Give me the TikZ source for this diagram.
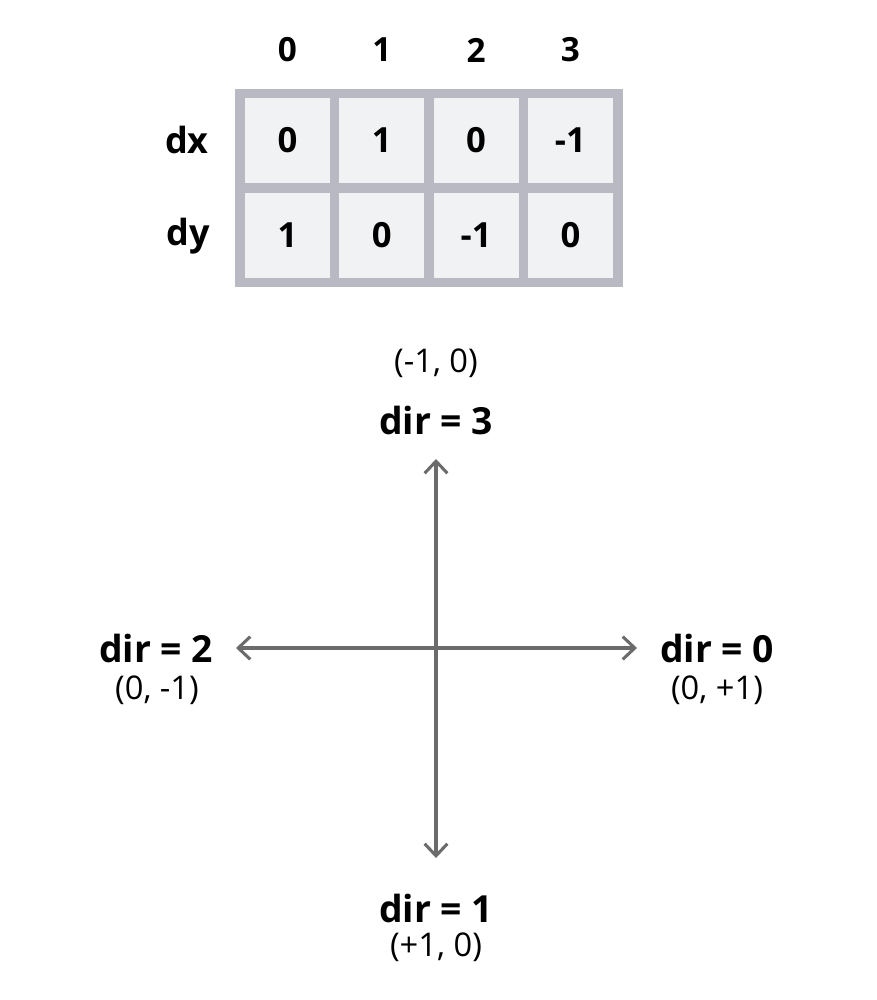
\documentclass[tikz,border=0pt]{standalone}
\usepackage{fontspec}
\setmainfont{Open Sans}
\usetikzlibrary{arrows.meta}
\definecolor{cellborder}{HTML}{B9B9C3}
\definecolor{cellfill}{HTML}{F1F2F4}
\definecolor{arrowgray}{HTML}{6B6B6B}
\begin{document}
\begin{tikzpicture}[x=0.75pt,y=-0.75pt,
  cell/.style={fill=cellfill,draw=none,minimum width=63.75pt,minimum height=63.75pt,inner sep=0pt,font=\fontsize{26}{30}\selectfont\bfseries},
  head/.style={font=\fontsize{25}{28}\selectfont\bfseries,inner sep=0pt},
  rowlab/.style={font=\fontsize{27}{30}\selectfont\bfseries,inner sep=0pt},
  dirlab/.style={font=\fontsize{28}{32}\selectfont\bfseries,inner sep=0pt},
  coordlab/.style={font=\fontsize{24.5}{28}\selectfont,inner sep=0pt},
  axis/.style={draw=arrowgray,line width=2.3pt,{Straight Barb[length=9pt,width=17pt,line width=2.3pt]}-{Straight Barb[length=9pt,width=17pt,line width=2.3pt]}}]
\useasboundingbox (0,0) rectangle (876,1000);
% table
\fill[cellborder] (235,89) rectangle (623,287);
\foreach \v [count=\i from 0] in {0,1,0,-1}{
  \node[cell] (dx\i) at (287.5+94.3*\i,140.5) {\v};
}
\foreach \v [count=\i from 0] in {1,0,-1,0}{
  \node[cell] (dy\i) at (287.5+94.3*\i,235) {\v};
}
\foreach \i in {0,1,2,3}{
  \node[head] (h\i) at (287.5+94.3*\i,50) {\i};
}
\node[rowlab] (dxl) at (187,140) {dx};
\node[rowlab] (dyl) at (188,236) {dy};
% axes
\coordinate (top) at (436,459);
\coordinate (bottom) at (436,858);
\coordinate (left) at (236,648);
\coordinate (right) at (637,648);
\draw[axis] (top) -- (bottom);
\draw[axis] (left) -- (right);
% labels
\node[coordlab] (c3) at (436,363) {(-1, 0)};
\node[dirlab] (d3) at (436,420) {dir = 3};
\node[dirlab] (d2) at (156,648) {dir = 2};
\node[coordlab] (c2) at (157,690) {(0, -1)};
\node[dirlab] (d0) at (717,648) {dir = 0};
\node[coordlab] (c0) at (717,690) {(0, +1)};
\node[dirlab] (d1) at (436,908) {dir = 1};
\node[coordlab] (c1) at (436,947) {(+1, 0)};
\end{tikzpicture}
\end{document}
